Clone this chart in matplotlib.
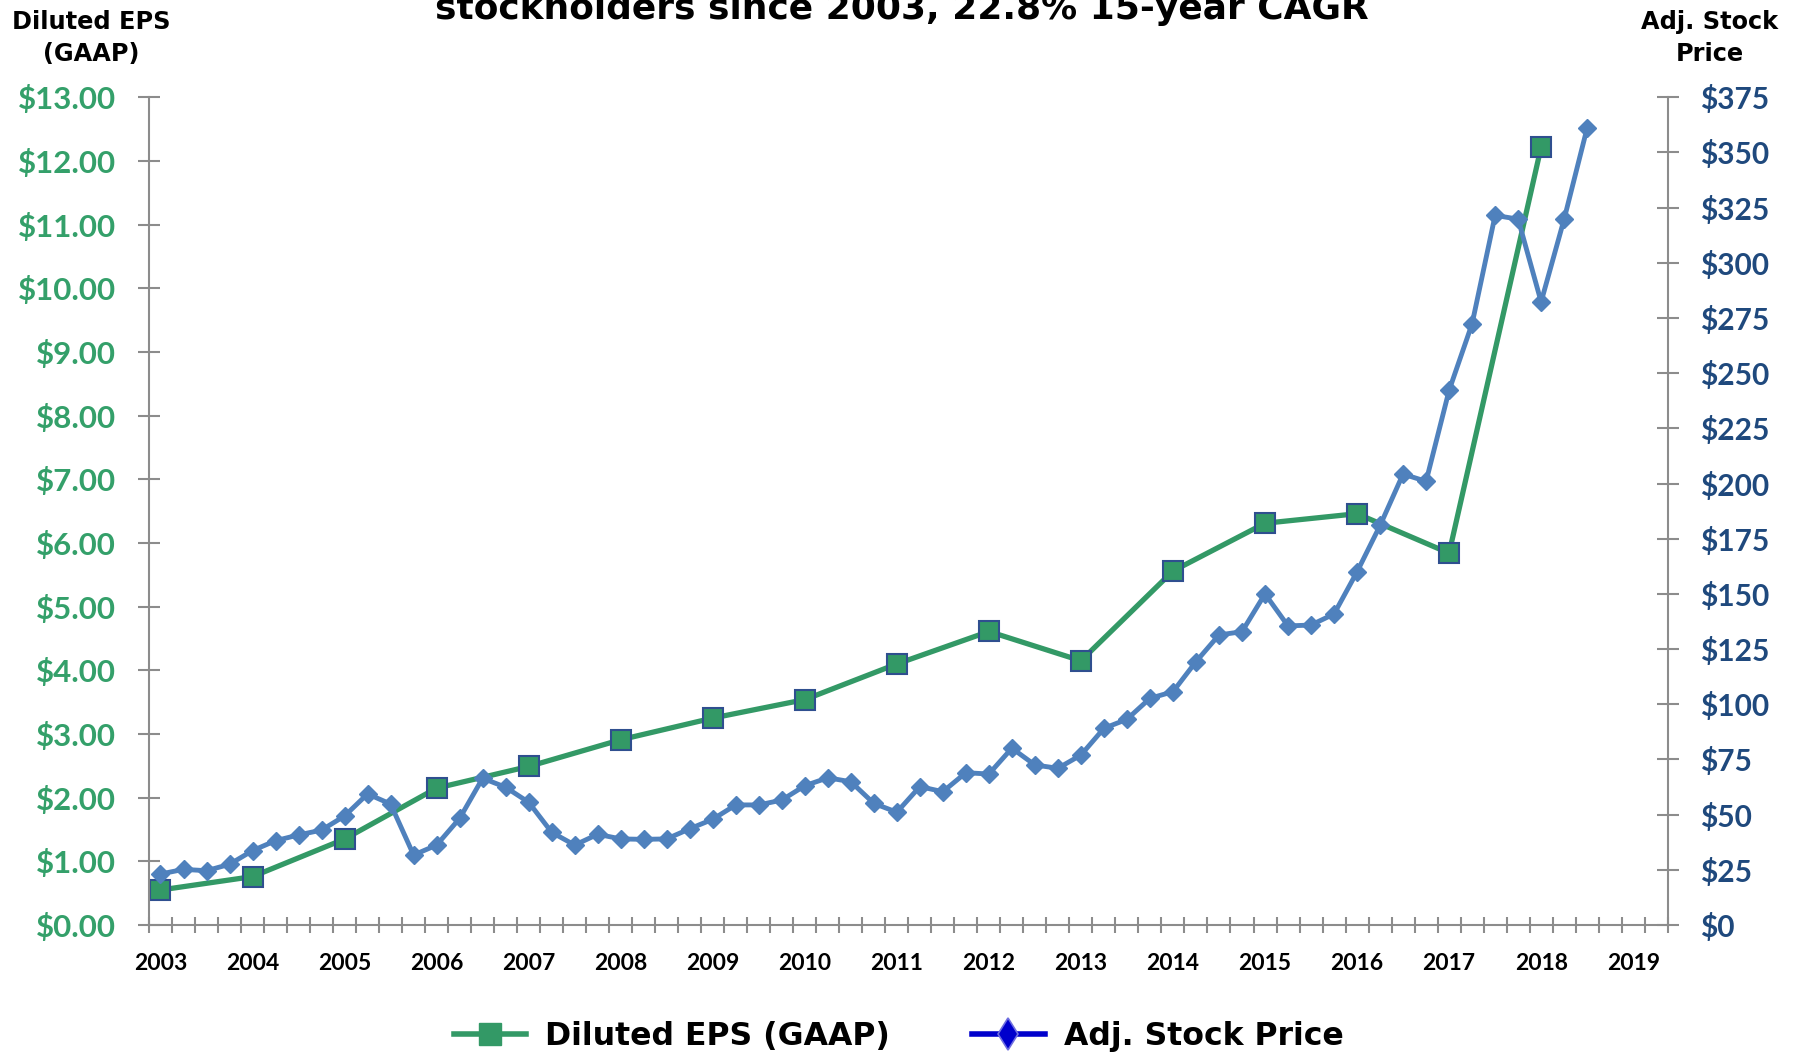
import matplotlib
matplotlib.use("Agg")
import matplotlib.pyplot as plt
import numpy as np
from matplotlib.lines import Line2D

# diluted EPS (GAAP), one point per year 2003..2018
eps_years = list(range(2003, 2019))
eps = [0.55, 0.76, 1.35, 2.15, 2.49, 2.91, 3.25, 3.54, 4.10, 4.61, 4.15,
       5.56, 6.31, 6.46, 5.84, 12.22]

# adjusted stock price, quarterly from 2003 Q1 to 2018 Q3
price = [23.1, 25.2, 24.6, 27.5, 33.7, 38.2, 40.8, 43.0, 49.4, 59.4,
         54.8, 31.7, 36.2, 48.3, 66.5, 62.4, 55.6, 42.0, 36.2, 41.1,
         39.0, 38.8, 39.0, 43.6, 47.9, 54.4, 54.4, 56.6, 63.1, 66.7,
         64.9, 55.1, 51.1, 62.7, 60.4, 69.0, 68.4, 80.1, 72.5, 71.0,
         77.0, 89.1, 93.2, 102.7, 105.7, 119.3, 131.4, 132.9, 150.0, 135.5,
         135.9, 140.9, 160.0, 181.0, 204.3, 201.0, 242.2, 272.4, 321.5, 319.8,
         282.3, 319.8, 361.1]

year_labels = [str(y) for y in range(2003, 2020)]
n_quarters = 66  # 2003 Q1 .. 2019 Q2 on the category axis

GREEN = "#339966"
GREEN_TXT = "#34A06A"
NAVY_EDGE = "#2F4F8F"
BLUE = "#4F81BD"
NAVY_TXT = "#1F497D"
GRAY = "#8C8C8C"

fig = plt.figure(figsize=(17.99, 10.53), dpi=100)
ax = fig.add_axes([0.08282, 0.12156, 0.84419, 0.78604])
ax2 = ax.twinx()

eps_x = [4 * (y - 2003) for y in eps_years]
price_x = list(range(len(price)))

ax.plot(eps_x, eps, color=GREEN, lw=3.8, marker="s", ms=14.5,
        mfc=GREEN, mec=NAVY_EDGE, mew=1.5, solid_joinstyle="round")
ax2.plot(price_x, price, color=BLUE, lw=3.5, marker="D", ms=9.4,
         mfc=BLUE, mec=BLUE, solid_joinstyle="round")

ax.set_xlim(-0.5, n_quarters - 0.5)
ax.set_ylim(0, 13)
ax2.set_ylim(0, 375)

# x axis: quarter boundaries as ticks, year labels
ax.set_xticks(range(0, n_quarters, 4))
ax.set_xticklabels(year_labels, fontfamily="Lato", fontweight="bold",
                   fontsize=16.5, color="black")
ax.set_xticks(np.arange(-0.5, n_quarters, 1), minor=True)
ax.tick_params(axis="x", which="major", length=0, pad=20)
ax.tick_params(axis="x", which="minor", direction="inout", length=12,
               width=1.5, color=GRAY)

eps_ticks = np.arange(0, 14, 1)
ax.set_yticks(eps_ticks)
ax.set_yticklabels(["${:.2f}".format(v) for v in eps_ticks],
                   fontfamily="Lato", fontweight="bold", fontsize=22.5)
ax.tick_params(axis="y", direction="inout", length=16, width=1.5,
               color=GRAY, labelcolor=GREEN_TXT, pad=16)

price_ticks = np.arange(0, 376, 25)
ax2.set_yticks(price_ticks)
ax2.set_yticklabels(["${}".format(v) for v in price_ticks],
                    fontfamily="Lato", fontweight="bold", fontsize=21.5)
ax2.tick_params(axis="y", direction="inout", length=16, width=1.5,
                color=GRAY, labelcolor=NAVY_TXT, pad=15)

for a in (ax, ax2):
    a.spines["top"].set_visible(False)
    for s in ("left", "right", "bottom"):
        a.spines[s].set_color(GRAY)
        a.spines[s].set_linewidth(1.5)
ax.spines["right"].set_visible(False)
ax2.spines["left"].set_visible(False)
ax2.spines["bottom"].set_visible(False)

bold = dict(fontfamily="DejaVu Sans", fontweight="bold", color="black")

# title line (upper line is cut off by the figure edge, as in the source)
fig.text(0.5015, 1 - 19.3 / 1053, "stockholders since 2003, 22.8% 15-year CAGR",
         ha="center", va="baseline", fontsize=25.9, **bold)

fig.text(91 / 1799, 1 - 29 / 1053, "Diluted EPS", ha="center",
         va="baseline", fontsize=17.3, **bold)
fig.text(91 / 1799, 1 - 61 / 1053, "(GAAP)", ha="center",
         va="baseline", fontsize=17.3, **bold)
fig.text(1710 / 1799, 1 - 29 / 1053, "Adj. Stock", ha="center",
         va="baseline", fontsize=17.3, **bold)
fig.text(1710 / 1799, 1 - 61 / 1053, "Price", ha="center",
         va="baseline", fontsize=17.3, **bold)

handles = [
    Line2D([], [], color=GREEN, lw=4, marker="s", ms=16, mfc=GREEN, mec=GREEN),
    Line2D([], [], color="#0000CC", lw=4, marker="d", ms=16.5,
           mfc="#0000CC", mec="#6F6FE0", mew=1.2),
]
fig.legend(handles, ["Diluted EPS (GAAP)", "Adj. Stock Price"],
           loc="center", bbox_to_anchor=(0.4995, 0.0152), ncol=2,
           frameon=False, handlelength=2.3, handletextpad=0.6,
           columnspacing=2.6, borderpad=0, borderaxespad=0,
           prop=dict(family="DejaVu Sans", weight="bold", size=22.7))

fig.savefig("out.png", dpi=100)
